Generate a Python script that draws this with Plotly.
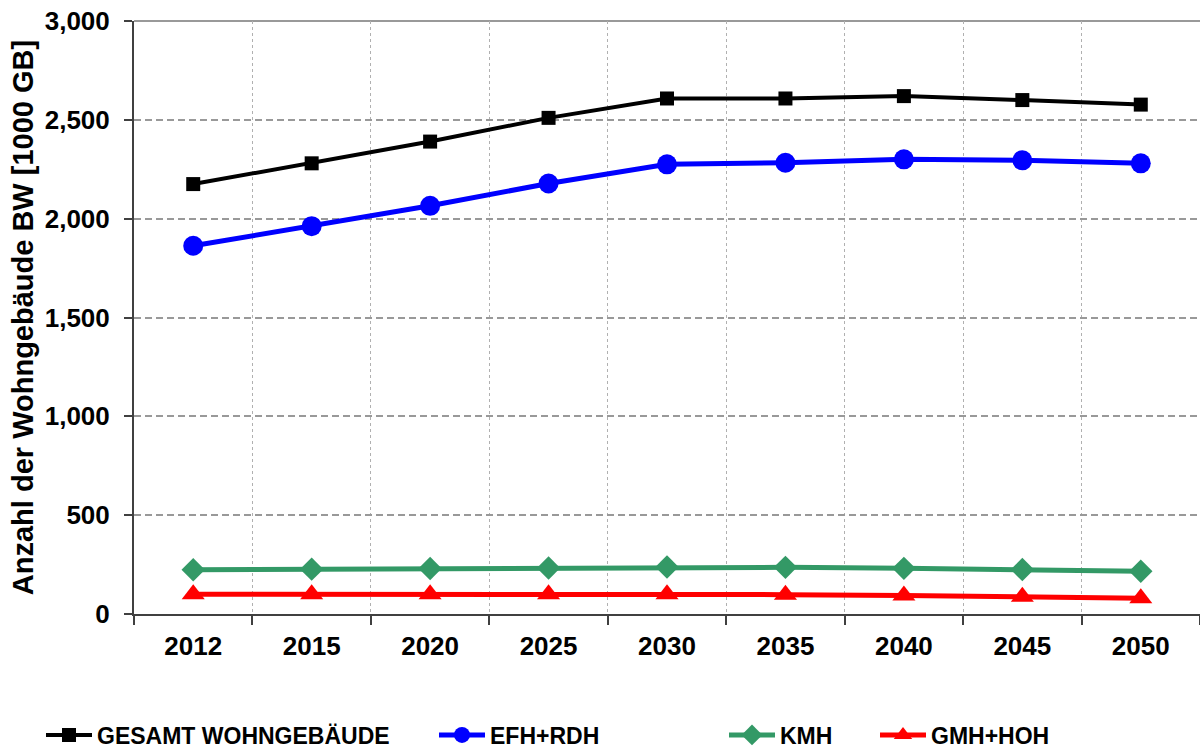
import plotly.graph_objects as go

years = ["2012", "2015", "2020", "2025", "2030", "2035", "2040", "2045", "2050"]
gesamt = [2175, 2280, 2390, 2510, 2608, 2608, 2620, 2600, 2577]
efh_rdh = [1863, 1962, 2065, 2178, 2275, 2283, 2300, 2295, 2280]
kmh = [224, 227, 230, 233, 238, 236, 231, 225, 216]
gmh_hoh = [100, 100, 100, 100, 100, 98, 93, 87, 80]

series = [
    ("GESAMT WOHNGEBÄUDE", gesamt, "#000000", "square", 14, 4),
    ("EFH+RDH", efh_rdh, "#0000ff", "circle", 20, 5),
    ("KMH", kmh, "#339966", "diamond", 18, 5),
    ("GMH+HOH", gmh_hoh, "#ff0000", "triangle-up", 20, 5),
]
legend_x = [41, 434, 724, 875]

FONT = "Liberation Sans, Arial, sans-serif"

fig = go.Figure()
for i, (name, vals, color, sym, size, lw) in enumerate(series):
    lg = "legend" if i == 0 else f"legend{i + 1}"
    fig.add_trace(go.Scatter(
        x=years, y=vals, name=name, mode="lines+markers",
        line=dict(color=color, width=lw),
        marker=dict(symbol=sym, size=size, color=color, line=dict(width=0)),
        legend=lg,
    ))

legend_style = dict(
    orientation="h", xref="container", yref="container",
    yanchor="middle", y=(749 - 735) / 749, xanchor="left",
    font=dict(family=FONT, size=23, color="#000000", weight="bold"),
    bgcolor="rgba(0,0,0,0)", itemwidth=46, tracegroupgap=0,
)
layout_legends = {}
for i, lx in enumerate(legend_x):
    key = "legend" if i == 0 else f"legend{i + 1}"
    layout_legends[key] = dict(legend_style, x=lx / 1200)

fig.update_layout(
    width=1200, height=749,
    margin=dict(l=134, r=0, t=21, b=135),
    paper_bgcolor="white", plot_bgcolor="white",
    font=dict(family=FONT, color="#000000", weight="bold"),
    showlegend=True,
    **layout_legends,
)

fig.update_xaxes(
    type="category", range=[-0.5, len(years) - 0.5],
    tickson="boundaries", ticks="outside", ticklen=9, tickwidth=1.5, tickcolor="#404040",
    showgrid=True, gridcolor="#b0b0b0", gridwidth=1, griddash="dot",
    showline=True, linecolor="#404040", linewidth=2,
    tickfont=dict(family=FONT, size=26, color="#000000", weight="bold"),
    ticklabelstandoff=8,
    zeroline=False,
)
fig.update_yaxes(
    range=[0, 3000], dtick=500, tickformat=",d",
    ticks="outside", ticklen=8, tickwidth=1.5, tickcolor="#404040",
    showgrid=True, gridcolor="#999999", gridwidth=2, griddash="7px,4px",
    showline=True, linecolor="#404040", linewidth=2,
    tickfont=dict(family=FONT, size=26, color="#000000", weight="bold"),
    ticklabelstandoff=9,
    zeroline=False,
    title=dict(text="Anzahl der Wohngebäude BW [1000 GB]", standoff=3,
               font=dict(family=FONT, size=29, color="#000000", weight="bold")),
)

# solid border line along the top of the plotting area
fig.add_shape(type="line", xref="paper", yref="paper", x0=0, x1=1, y0=1, y1=1,
              line=dict(color="#999999", width=2), layer="below")

fig.write_html("out.html")
